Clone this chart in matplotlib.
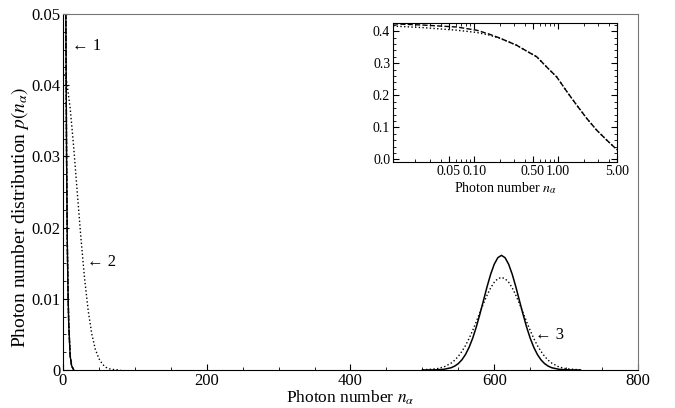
import matplotlib
matplotlib.use('Agg')
import matplotlib.pyplot as plt
from matplotlib.ticker import MultipleLocator, FixedLocator, NullFormatter

plt.rcParams['font.family'] = ['Liberation Serif', 'DejaVu Serif']
plt.rcParams['mathtext.fontset'] = 'stix'

# curve 1 : near n = 0 (also shown in the inset)
n1 = [0, 0.5, 1, 1.5, 2, 2.5, 3, 3.5, 4, 5, 6, 7, 8, 10, 12, 15]
p1 = [0.42, 0.33, 0.25, 0.19, 0.145, 0.11, 0.085, 0.065, 0.05, 0.03,
      0.018, 0.011, 0.0065, 0.002, 0.0006, 0.0]

# curve 2 : dotted, near n = 0
n2 = [0, 5, 10, 15, 20, 25, 30, 35, 40, 45, 50, 55, 60, 65, 70, 80]
p2 = [0.042, 0.0406, 0.0368, 0.0312, 0.0248, 0.0185, 0.0129, 0.0084,
      0.0051, 0.0029, 0.0016, 0.0008, 0.00037, 0.00016, 0.00007, 0.0]

# curve 3 : peaks around n = 610
ns = [500, 520, 530, 540, 545, 550, 555, 560, 565, 570, 575, 580, 585, 590,
      595, 600, 605, 610, 615, 620, 625, 630, 635, 640, 645, 650, 655, 660,
      665, 670, 675, 680, 690, 700, 720]
ps = [0.0, 0.00003, 0.0001, 0.00032, 0.00055, 0.0009, 0.00143, 0.00218,
      0.00319, 0.00447, 0.00604, 0.00784, 0.00976, 0.0117, 0.01345, 0.01486,
      0.01578, 0.0161, 0.01578, 0.01486, 0.01345, 0.0117, 0.00976, 0.00784,
      0.00604, 0.00447, 0.00319, 0.00218, 0.00143, 0.0009, 0.00055, 0.00032,
      0.0001, 0.00003, 0.0]

nd = [500, 520, 530, 540, 545, 550, 555, 560, 565, 570, 575, 580, 585, 590,
      595, 600, 605, 610, 615, 620, 625, 630, 635, 640, 645, 650, 655, 660,
      665, 670, 675, 680, 690, 700, 720]
pd = [0.00002, 0.00018, 0.00043, 0.00097, 0.00138, 0.00192, 0.00262,
      0.00344, 0.00444, 0.00556, 0.00679, 0.00807, 0.00934, 0.0105, 0.01154,
      0.01233, 0.01283, 0.013, 0.01283, 0.01233, 0.01154, 0.0105, 0.00934,
      0.00807, 0.00679, 0.00556, 0.00444, 0.00344, 0.00262, 0.00192, 0.00138,
      0.00097, 0.00043, 0.00018, 0.00002]

# inset (log x)
xi = [0.0108, 0.025, 0.062, 0.107, 0.15, 0.2, 0.25, 0.32, 0.42, 0.555, 0.73,
      0.96, 1.27, 1.66, 2.18, 2.87, 3.78, 5.0]
yi_dot = [0.416, 0.411, 0.403, 0.396, 0.388, 0.378, 0.368, 0.356, 0.338,
          0.32, 0.288, 0.257, 0.211, 0.169, 0.128, 0.091, 0.06, 0.03]
yi_dash = [0.423, 0.419, 0.413, 0.403, 0.391, 0.379, 0.368, 0.356, 0.338,
           0.32, 0.288, 0.257, 0.211, 0.169, 0.128, 0.091, 0.06, 0.03]

fig = plt.figure(figsize=(6.75, 4.08), dpi=100)
ax = fig.add_axes([0.0933, 0.0931, 0.8519, 0.8726])

ax.plot(n1, p1, 'k-', lw=1.0)
ax.plot(n1, p1, 'k--', lw=1.0)
ax.plot(n1, p1, 'k:', lw=1.0)
ax.plot(n2, p2, 'k:', lw=1.0)
ax.plot(ns, ps, 'k-', lw=1.1)
ax.plot(nd, pd, 'k:', lw=1.0)

ax.set_xlim(0, 800)
ax.set_ylim(0, 0.05)
ax.set_xticks([0, 200, 400, 600, 800])
ax.set_xticklabels(['0', '200', '400', '600', '800'])
ax.xaxis.set_minor_locator(MultipleLocator(50))
ax.set_yticks([0, 0.01, 0.02, 0.03, 0.04, 0.05])
ax.set_yticklabels(['0', '0.01', '0.02', '0.03', '0.04', '0.05'])
ax.yaxis.set_minor_locator(MultipleLocator(0.0025))
ax.tick_params(which='both', direction='in', top=False, right=False, labelsize=12, pad=2)
ax.tick_params(which='major', length=4)
ax.tick_params(which='minor', length=2)
for s in ['top', 'right']:
    ax.spines[s].set_color('#777777')
ax.set_xlabel(r'Photon number $n_{\alpha}$', fontsize=12.5, labelpad=0)
ax.set_ylabel(r'Photon number distribution $p(n_{\alpha})$', fontsize=14, labelpad=1)
ax.yaxis.set_label_coords(-0.055, 0.43)

ax.text(13, 0.0455, '← 1', fontsize=12, va='center')
ax.text(34, 0.0152, '← 2', fontsize=12, va='center')
ax.text(656, 0.0049, '← 3', fontsize=12, va='center')

# inset
axi = fig.add_axes([0.5822, 0.603, 0.3319, 0.341])
axi.plot(xi, yi_dash, 'k--', lw=1.0)
axi.plot(xi, yi_dot, 'k:', lw=1.0)
axi.set_xscale('log')
axi.set_xlim(0.0108, 5)
axi.set_ylim(-0.008, 0.426)
axi.xaxis.set_major_locator(FixedLocator([0.05, 0.1, 0.5, 1, 5]))
axi.set_xticklabels(['0.05', '0.10', '0.50', '1.00', '5.00'])
axi.xaxis.set_minor_locator(FixedLocator([0.02, 0.03, 0.04, 0.06, 0.07, 0.08, 0.09,
                                          0.2, 0.3, 0.4, 0.6, 0.7, 0.8, 0.9, 2, 3, 4]))
axi.xaxis.set_minor_formatter(NullFormatter())
axi.set_yticks([0, 0.1, 0.2, 0.3, 0.4])
axi.set_yticklabels(['0.0', '0.1', '0.2', '0.3', '0.4'])
axi.yaxis.set_minor_locator(MultipleLocator(0.02))
axi.tick_params(which='both', direction='in', top=True, right=True, labelsize=10, pad=2)
axi.tick_params(which='major', length=4)
axi.tick_params(which='minor', length=2)
axi.set_xlabel(r'Photon number $n_{\alpha}$', fontsize=10, labelpad=2)

plt.savefig('out.png', dpi=100)
